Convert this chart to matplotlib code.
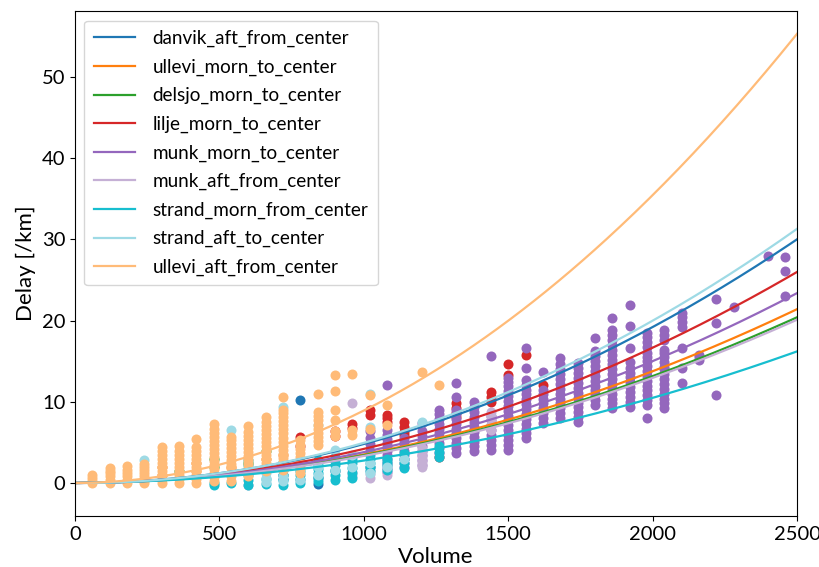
import numpy as np
import matplotlib
matplotlib.use("Agg")
import matplotlib.pyplot as plt

plt.rcParams["font.family"] = ["Lato", "DejaVu Sans"]
plt.rcParams["font.size"] = 15

routes = [
    "danvik_aft_from_center",
    "ullevi_morn_to_center",
    "delsjo_morn_to_center",
    "lilje_morn_to_center",
    "munk_morn_to_center",
    "munk_aft_from_center",
    "strand_morn_from_center",
    "strand_aft_to_center",
    "ullevi_aft_from_center",
]
colors = ["#1f77b4", "#ff7f0e", "#2ca02c", "#d62728", "#9467bd",
          "#c5b0d5", "#17becf", "#9edae5", "#ffbb78"]

# fitted delay model per route: delay = a * volume^2 + b * volume
fit_a = [4.80e-6, 3.36e-6, 3.16e-6, 4.13e-6, 3.70e-6, 3.14e-6, 2.48e-6, 5.05e-6, 8.80e-6]
fit_b = [0.0, 1.6e-4, 2.6e-4, 6.8e-5, 1.0e-4, 1.9e-4, 2.8e-4, -1.1e-4, 1.2e-4]

# observed (volume, [delays]) per route
danvik_obs = [
    (720, [0.5, 1.0]), (780, [10.2]), (840, [-0.1, 0.6]), (900, [1.5]), (1020, [2.0]),
]
ullevi_morn_obs = [
    (300, [1.0, 2.0]), (420, [1.5, 2.5]), (540, [2.0]), (660, [3.0]), (720, [3.5]),
]
delsjo_obs = [
    (360, [1.5]), (480, [2.0, 3.0]), (600, [2.5]), (660, [4.0]),
]
lilje_obs = [
    (780, [5.7, 4.6]), (900, [6.4, 5.8]), (960, [7.3, 6.8]), (1020, [9.0, 8.4]),
    (1080, [8.4, 8.0, 7.5]), (1140, [7.5, 6.9, 6.3, 5.9]), (1260, [3.2]),
    (1320, [9.8, 9.2, 8.6, 8.1]), (1440, [11.2, 10.6, 10.0]), (1500, [14.7, 13.3]),
    (1560, [15.7]), (1620, [12.1]),
]
munk_morn_obs = [
    (1020, [4.0, 4.8, 5.6, 6.4]),
    (1080, [1.4, 1.9, 2.4, 2.9, 3.4, 3.9, 4.4, 4.9, 5.4, 5.9, 6.5, 12.1]),
    (1140, [2.0, 2.5, 3.0, 3.5, 4.0, 4.5, 5.0, 5.5]),
    (1200, [2.2, 2.8, 3.4, 4.0, 4.6, 5.2, 5.8, 6.4, 7.4]),
    (1260, [3.7, 4.3, 4.9, 5.5, 6.1, 6.7, 7.3, 7.9, 8.5, 9.0]),
    (1320, [3.7, 4.3, 4.9, 5.5, 6.1, 6.7, 7.3, 7.9, 8.5, 9.0, 10.6, 12.3]),
    (1380, [3.9, 4.5, 5.1, 5.7, 6.3, 6.9, 7.5, 8.1, 8.7, 9.3, 10.0]),
    (1440, [4.1, 4.7, 5.3, 5.9, 6.5, 7.1, 7.7, 8.2, 15.6]),
    (1500, [4.1, 4.7, 5.3, 5.9, 6.5, 7.1, 7.7, 8.3, 8.9, 9.5, 10.1, 10.7,
            11.3, 11.9, 12.4, 12.9]),
    (1560, [5.5, 6.1, 6.7, 7.3, 7.9, 8.5, 9.1, 9.7, 10.3, 10.9, 11.5, 12.1,
            12.7, 14.2, 16.6]),
    (1620, [7.4, 8.0, 8.6, 9.2, 9.8, 10.4, 11.0, 11.5, 13.7]),
    (1680, [8.0, 8.6, 9.2, 9.8, 10.4, 11.0, 11.6, 12.2, 12.8, 13.4, 14.0,
            14.6, 15.4]),
    (1740, [7.5, 8.1, 8.7, 9.3, 9.9, 10.5, 11.1, 11.7, 12.3, 12.9, 13.5,
            14.1, 14.8]),
    (1800, [9.6, 10.2, 10.8, 11.4, 12.0, 12.6, 13.2, 13.8, 14.4, 15.0, 15.6,
            16.2, 17.9]),
    (1860, [9.2, 9.8, 10.4, 11.0, 11.6, 12.2, 12.8, 13.4, 14.0, 14.6, 15.2,
            15.8, 16.4, 17.0, 17.6, 18.2, 18.8, 20.3]),
    (1920, [9.4, 10.0, 10.6, 11.2, 11.8, 12.4, 13.0, 13.6, 14.2, 14.9, 16.6,
            19.3, 21.9]),
    (1980, [8.0, 9.6, 10.2, 10.8, 11.4, 12.0, 12.6, 13.2, 13.8, 14.4, 15.0,
            15.5, 16.0, 16.8, 17.4, 18.0, 18.5]),
    (2040, [9.2, 9.8, 10.4, 11.0, 11.6, 12.2, 12.8, 13.4, 14.0, 14.3, 14.9,
            15.5, 16.0, 16.4, 17.6, 18.2, 18.8]),
    (2100, [12.3, 14.1, 16.6, 19.2, 19.8, 20.4, 20.9]),
    (2160, [15.1, 15.5, 15.8]),
    (2220, [10.8, 19.7, 22.7]),
    (2280, [21.7]),
    (2400, [28.0]),
    (2460, [23.0, 26.1, 27.8]),
]
munk_aft_obs = [
    (600, [-0.3]), (780, [0.4]), (960, [0.8, 1.4, 9.9]), (1020, [0.6, 1.1, 1.6]),
    (1080, [1.0, 1.6, 2.2, 2.8]), (1200, [2.0, 2.6, 3.2, 3.8, 4.3]),
    (1440, [6.5, 7.1, 7.7, 8.3, 8.8]),
]
strand_morn_obs = [
    (480, [-0.2, 0.0]), (540, [0.0]),
    (600, [-0.2, 0.4, 1.0, 1.6, 2.2, 2.8]),
    (660, [-0.1, 0.5]),
    (720, [-0.2, 0.4, 1.0, 1.6, 2.1, 2.6]),
    (780, [0.0, 0.5, 1.0, 1.5]),
    (840, [0.2, 0.7, 1.2, 1.7, 2.2, 2.8]),
    (900, [0.4, 1.0, 1.6, 2.2, 2.7, 3.2]),
    (960, [0.6, 1.2, 1.8, 2.4, 2.8, 3.2]),
    (1020, [1.5, 2.0, 2.5, 3.0, 3.5]),
    (1080, [1.6, 2.2, 2.6, 3.0]),
    (1140, [1.8, 2.4, 3.0, 3.7]),
    (1260, [3.2, 3.8, 4.5]),
]
strand_aft_obs = [
    (240, [0.3, 2.8]), (540, [6.5]), (660, [0.1, 0.6, 1.2]), (720, [0.2, 0.8, 9.4]),
    (780, [0.4, 1.8]), (840, [1.0, 2.0, 7.1]), (900, [1.6, 4.1]), (960, [2.0, 3.5]),
    (1020, [1.2, 2.5, 6.9, 11.0]), (1080, [2.0]), (1140, [3.0]), (1200, [7.5]),
]
ullevi_aft_obs = [
    (60, [0.0, 0.3, 0.6, 1.0]),
    (120, [0.0, 0.4, 0.8, 1.2, 1.5, 1.8]),
    (180, [0.0, 0.4, 0.8, 1.2, 1.6, 2.1]),
    (240, [0.0, 0.4, 0.8, 1.2, 1.6, 2.0, 2.3]),
    (300, [0.0, 0.5, 1.0, 1.5, 2.0, 2.5, 3.0, 3.5, 3.9, 4.4]),
    (360, [0.0, 0.5, 1.0, 1.5, 2.0, 2.5, 3.0, 3.5, 4.0, 4.6]),
    (420, [0.0, 0.5, 1.0, 1.5, 2.0, 2.5, 3.0, 3.5, 4.0, 4.4, 5.4]),
    (480, [0.2, 0.7, 1.2, 1.7, 2.2, 2.7, 3.2, 3.7, 4.2, 4.7, 5.2, 5.7, 6.2,
           6.7, 7.3]),
    (540, [0.3, 0.8, 1.3, 1.8, 2.3, 2.8, 3.3, 3.8, 4.3, 4.8, 5.3, 5.7]),
    (600, [0.8, 1.3, 1.8, 2.3, 2.8, 3.3, 3.8, 4.3, 4.8, 5.3, 5.8, 6.3, 7.0]),
    (660, [1.5, 2.0, 2.5, 3.0, 3.5, 4.0, 4.5, 5.0, 5.5, 6.0, 6.5, 7.0, 7.5,
           8.1]),
    (720, [1.6, 2.1, 2.6, 3.1, 3.6, 4.1, 4.6, 5.1, 5.6, 6.1, 6.6, 7.1, 7.6,
           8.1, 8.6, 9.0, 10.6]),
    (780, [1.2, 1.7, 2.2, 2.7, 3.2, 3.7, 4.2, 4.7, 5.3]),
    (840, [4.7, 5.2, 5.7, 6.2, 6.7, 7.2, 7.7, 8.2, 8.8, 11.0]),
    (900, [5.8, 6.4, 7.8, 9.0, 11.3, 13.3]),
    (960, [5.9, 6.5, 13.4]),
    (1020, [6.6, 10.8]),
    (1080, [7.1, 9.6]),
    (1200, [13.7]),
    (1260, [12.1]),
]
observations = [danvik_obs, ullevi_morn_obs, delsjo_obs, lilje_obs, munk_morn_obs,
                munk_aft_obs, strand_morn_obs, strand_aft_obs, ullevi_aft_obs]

x_ticks = [0, 500, 1000, 1500, 2000, 2500]
y_ticks = [0, 10, 20, 30, 40, 50]

fig = plt.figure(figsize=(8.2, 5.67), dpi=100)
ax = fig.add_axes([0.0915, 0.090, 0.8805, 0.8905])

for obs, color in zip(observations, colors):
    vols = [v for v, ds in obs for _ in ds]
    dels = [d for _, ds in obs for d in ds]
    ax.scatter(vols, dels, s=52, color=color, linewidths=0)

vol_grid = np.linspace(0, 2500, 300)
for name, color, a, b in zip(routes, colors, fit_a, fit_b):
    ax.plot(vol_grid, a * vol_grid ** 2 + b * vol_grid, color=color, lw=1.6, label=name)

ax.set_xlim(0, 2500)
ax.set_ylim(-4.06, 58.1)
ax.set_xticks(x_ticks)
ax.set_yticks(y_ticks)
ax.tick_params(labelsize=14.5)
ax.set_xlabel("Volume", fontsize=16, labelpad=3)
ax.set_ylabel("Delay [/km]", fontsize=16, labelpad=4)
ax.legend(loc="upper left", fontsize=13.6, handlelength=2.2, labelspacing=0.6,
          borderpad=0.5, handletextpad=0.9, framealpha=0.8)

fig.savefig("out.png", dpi=100)
